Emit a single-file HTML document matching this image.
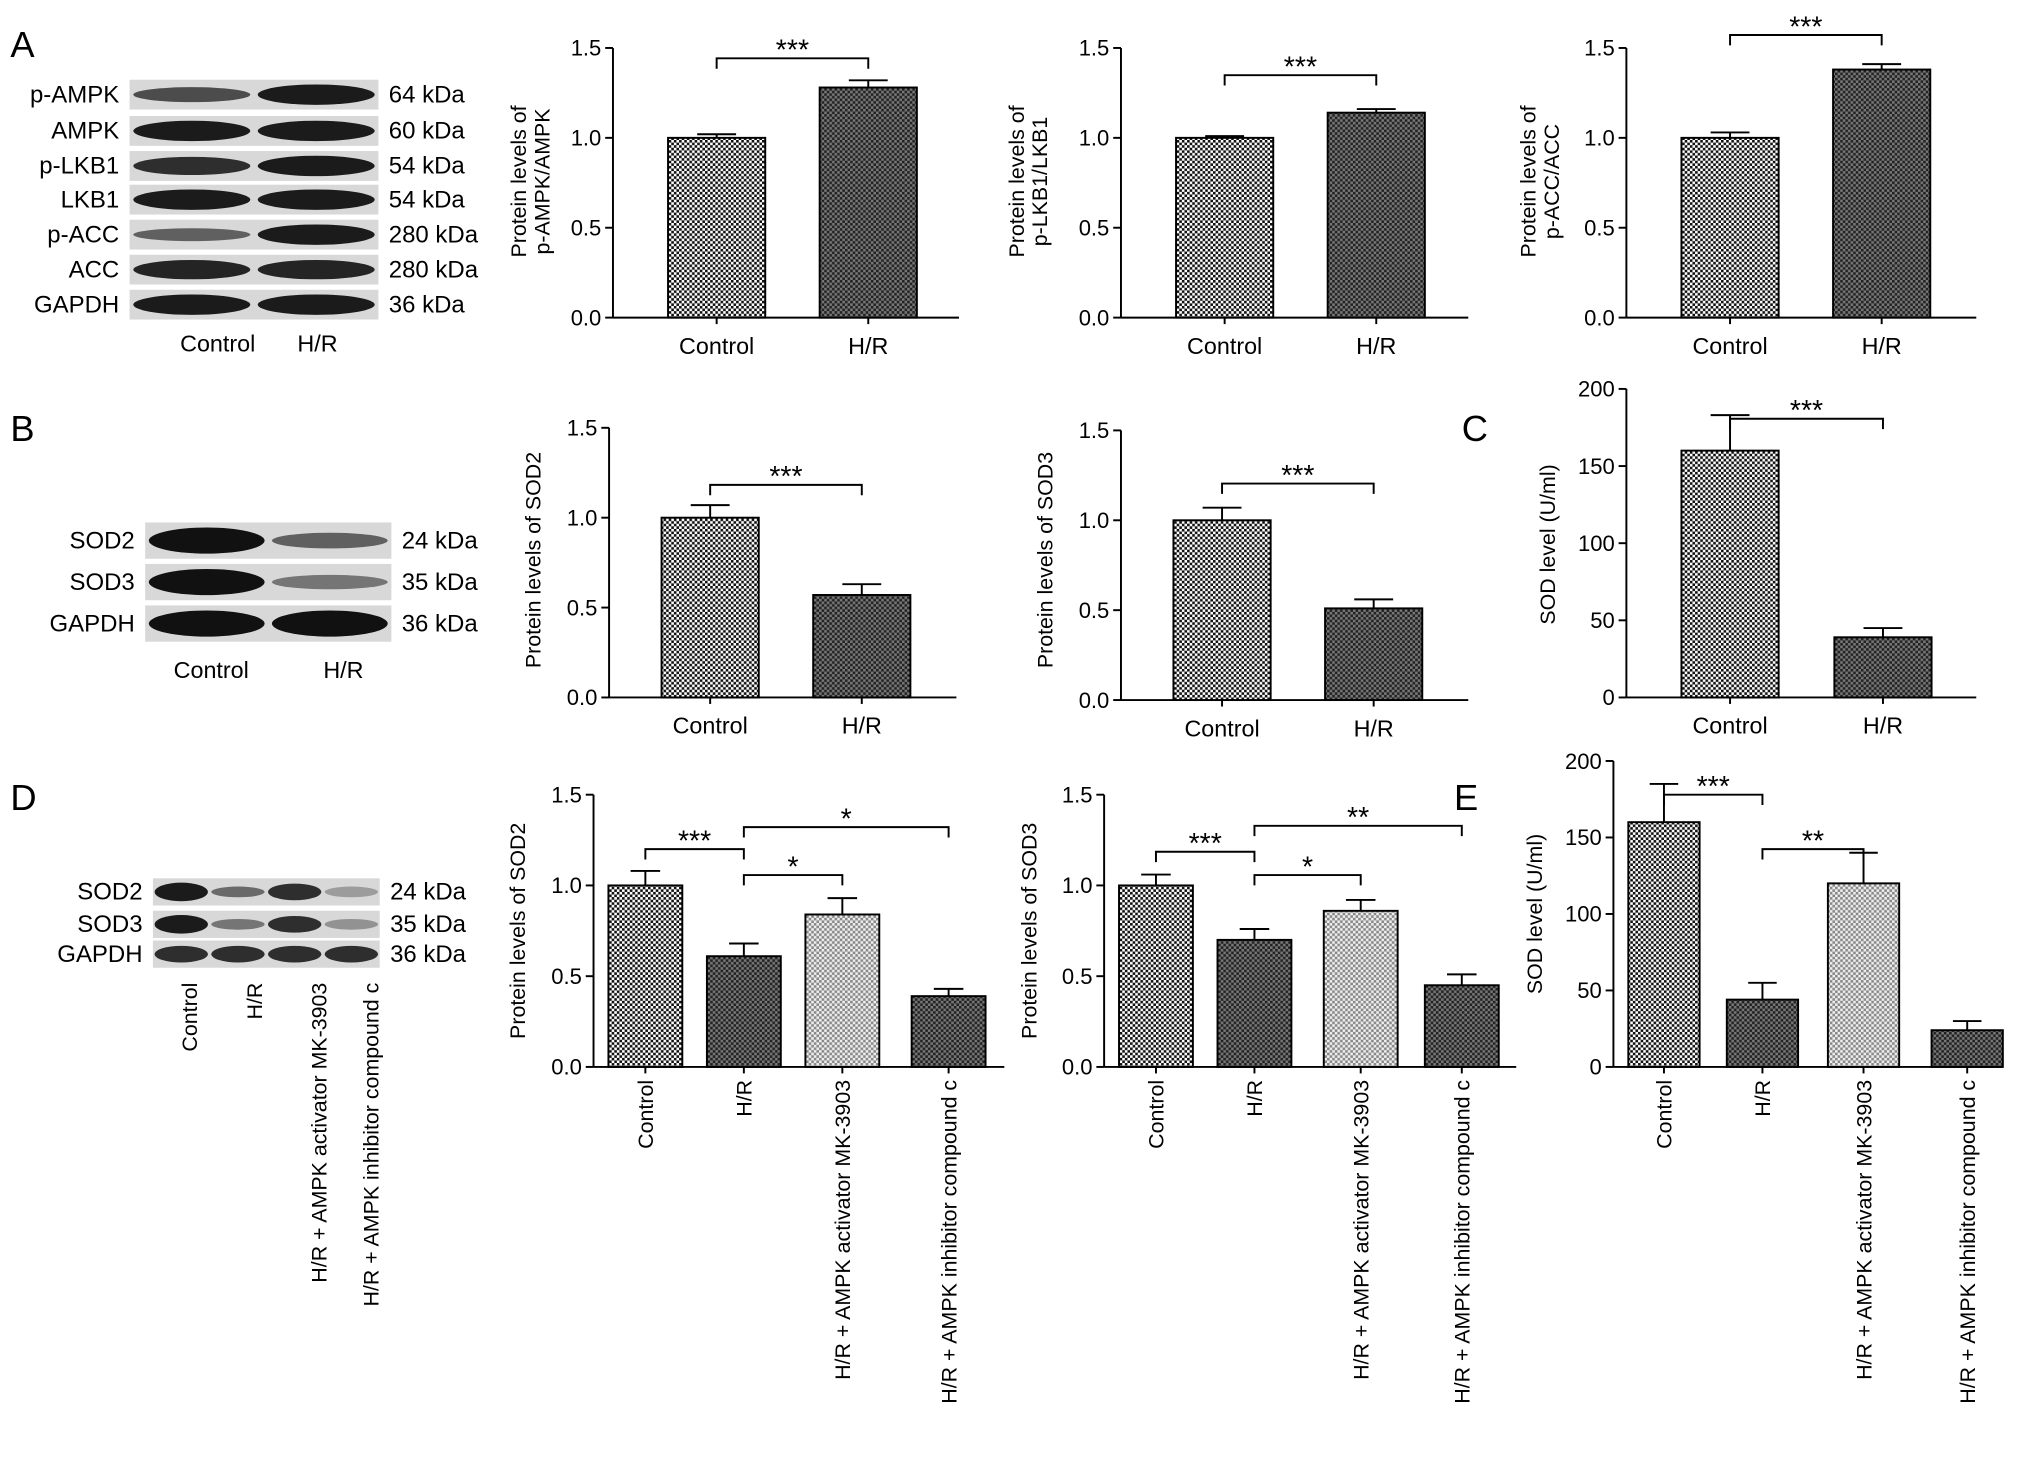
<!DOCTYPE html>
<html><head><meta charset="utf-8"><style>
html,body{margin:0;padding:0;background:#fff}
svg{display:block;font-family:"Liberation Sans",Arial,sans-serif}
</style></head><body>
<svg id="fig" width="2032" height="1474" viewBox="0 0 1568 1137" preserveAspectRatio="none" xmlns="http://www.w3.org/2000/svg">
<defs>
<pattern id="pCtl" width="4" height="4" patternUnits="userSpaceOnUse"><rect width="4" height="4" fill="#fff"/><rect width="2" height="2" fill="#111"/><rect x="2" y="2" width="2" height="2" fill="#111"/></pattern>
<pattern id="pHR" width="4" height="4" patternUnits="userSpaceOnUse"><rect width="4" height="4" fill="#777"/><rect width="2" height="2" fill="#222"/><rect x="2" y="2" width="2" height="2" fill="#222"/></pattern>
<pattern id="pMK" width="4" height="4" patternUnits="userSpaceOnUse"><rect width="4" height="4" fill="#eee"/><rect width="2" height="2" fill="#888"/><rect x="2" y="2" width="2" height="2" fill="#888"/></pattern>
</defs>
<g id="root"></g>
</svg>
<script>
// ---- data ----
const cats2 = ["Control","H/R"];
const cats4 = ["Control","H/R","H/R + AMPK activator MK-3903","H/R + AMPK inhibitor compound c"];
const a1Vals = [1.0, 1.28]; const a1Errs = [0.02, 0.04];
const a2Vals = [1.0, 1.14]; const a2Errs = [0.01, 0.02];
const a3Vals = [1.0, 1.38]; const a3Errs = [0.03, 0.03];
const b1Vals = [1.0, 0.57]; const b1Errs = [0.07, 0.06];
const b2Vals = [1.0, 0.51]; const b2Errs = [0.07, 0.05];
const cVals = [160, 39]; const cErrs = [23, 6];
const d1Vals = [1.0, 0.61, 0.84, 0.39]; const d1Errs = [0.08, 0.07, 0.09, 0.04];
const d2Vals = [1.0, 0.70, 0.86, 0.45]; const d2Errs = [0.06, 0.06, 0.06, 0.06];
const eVals = [160, 44, 120, 24]; const eErrs = [25, 11, 20, 6];
const ticks15 = ["0.0","0.5","1.0","1.5"];
const ticks200 = ["0","50","100","150","200"];

const NS="http://www.w3.org/2000/svg";
const root=document.getElementById('root');
function el(tag,attrs,parent,txt){const e=document.createElementNS(NS,tag);for(const k in attrs)e.setAttribute(k,attrs[k]);if(txt!==undefined)e.textContent=txt;(parent||root).appendChild(e);return e;}

const fills=["url(#pCtl)","url(#pHR)","url(#pMK)","url(#pHR)"];

function chart(name,g){
  const grp=el('g',{});
  
  
  const ymax=g.ymax;
  const y=v=>g.y0-(v/ymax)*(g.y0-g.yTop);
  const ya=el('line',{x1:g.ax,y1:g.yTop,x2:g.ax,y2:g.y0,stroke:'#000','stroke-width':1.5},grp);
  
  const xa=el('line',{x1:g.ax,y1:g.y0,x2:g.xEnd,y2:g.y0,stroke:'#000','stroke-width':1.5},grp);
  
  g.ticks.forEach(t=>{const v=parseFloat(t);const yy=y(v);
    el('line',{x1:g.ax-6,y1:yy,x2:g.ax,y2:yy,stroke:'#000','stroke-width':1.5},grp);
    const tl=el('text',{x:g.ax-9,y:yy+6,'text-anchor':'end','font-size':17},grp,t);
    
  });
  const tt=el('text',{transform:`translate(${g.tx},${g.tcy}) rotate(-90)`,'text-anchor':'middle','font-size':16.5},grp);
  
  g.title.forEach((ln,i)=>{el('tspan',{x:0,dy:i?18:0},tt,ln);});
  g.vals.forEach((v,i)=>{const cx=g.cx[i];const w=g.bw;
    const b=el('rect',{x:cx-w/2,y:y(v),width:w,height:g.y0-y(v),fill:fills[i],stroke:'#000','stroke-width':1.5},grp);
    
    const et=y(v+g.errs[i]);
    el('line',{x1:cx,y1:y(v),x2:cx,y2:et,stroke:'#000','stroke-width':1.5},grp);
    el('line',{x1:cx-w*0.2,y1:et,x2:cx+w*0.2,y2:et,stroke:'#000','stroke-width':1.5},grp);
    el('line',{x1:cx,y1:g.y0,x2:cx,y2:g.y0+5,stroke:'#000','stroke-width':1.5},grp);
    let lab;
    if(g.rot){lab=el('text',{transform:`translate(${cx+6},${g.y0+10}) rotate(-90)`,'text-anchor':'end','font-size':16.5},grp,g.cats[i]);}
    else{lab=el('text',{x:cx,y:g.y0+28,'text-anchor':'middle','font-size':18},grp,g.cats[i]);}
    
  });
  g.sig.forEach(s=>{
    const x1=g.cx[s[0]],x2=g.cx[s[1]],yy=s[2];
    const br=el('path',{d:`M${x1} ${yy+8}V${yy}H${x2}V${yy+8}`,fill:'none',stroke:'#000','stroke-width':1.5},grp);
    
    const st=el('text',{x:(x1+x2)/2,y:yy+1,'text-anchor':'middle','font-size':22},grp,s[3]);
    
  });
}

function blot(name,g){
  const grp=el('g',{});
  
  g.rows.forEach((r,ri)=>{
    const yy=g.y[ri];
    el('rect',{x:g.x,y:yy-g.h/2,width:g.w,height:g.h,fill:'#d8d8d8'},grp);
    r.int.forEach((a,li)=>{const lw=g.w/r.int.length;const cx=g.x+lw*(li+0.5);
      el('ellipse',{cx:cx,cy:yy,rx:lw*0.47,ry:g.h*0.36*Math.max(0.55,a),fill:'#111','fill-opacity':a},grp);});
    const l=el('text',{x:g.x-8,y:yy+6,'text-anchor':'end','font-size':18.5},grp,r.name);
    
    const k=el('text',{x:g.x+g.w+8,y:yy+6,'font-size':18.5},grp,r.kda);
    
  });
}
function panelLabel(t,x,y){const e=el('text',{x:x,y:y,'font-size':28},root,t);}

panelLabel('A',8,44);panelLabel('B',8,340);panelLabel('C',1128,340);panelLabel('D',8,625);panelLabel('E',1122,625);

blot('blot-a',{x:100,w:192,h:23,y:[73,101,128,154,181,208,235],rows:[
 {name:'p-AMPK',kda:'64 kDa',int:[0.7,0.95]},{name:'AMPK',kda:'60 kDa',int:[0.95,0.95]},
 {name:'p-LKB1',kda:'54 kDa',int:[0.85,0.95]},{name:'LKB1',kda:'54 kDa',int:[0.95,0.95]},
 {name:'p-ACC',kda:'280 kDa',int:[0.6,0.95]},{name:'ACC',kda:'280 kDa',int:[0.9,0.9]},
 {name:'GAPDH',kda:'36 kDa',int:[0.95,0.95]}]});
el('text',{x:168,y:271,'text-anchor':'middle','font-size':18},root,'Control');
el('text',{x:245,y:271,'text-anchor':'middle','font-size':18},root,'H/R');

blot('blot-b',{x:112,w:190,h:28,y:[417,449,481],rows:[
 {name:'SOD2',kda:'24 kDa',int:[1,0.6]},{name:'SOD3',kda:'35 kDa',int:[1,0.5]},{name:'GAPDH',kda:'36 kDa',int:[1,1]}]});
el('text',{x:163,y:523,'text-anchor':'middle','font-size':18},root,'Control');
el('text',{x:265,y:523,'text-anchor':'middle','font-size':18},root,'H/R');

blot('blot-d',{x:118,w:175,h:21,y:[688,713,736],rows:[
 {name:'SOD2',kda:'24 kDa',int:[0.95,0.55,0.85,0.3]},{name:'SOD3',kda:'35 kDa',int:[0.95,0.5,0.85,0.35]},{name:'GAPDH',kda:'36 kDa',int:[0.85,0.85,0.85,0.85]}]});
cats4.forEach((c,i)=>{const t=el('text',{transform:`translate(${[152,202,252,292][i]},758) rotate(-90)`,'text-anchor':'end','font-size':16.5},root,c);
 });

chart('chart-p-ampk',{ax:473,xEnd:740,yTop:37,y0:245,ymax:1.5,ticks:ticks15,cats:cats2,vals:a1Vals,errs:a1Errs,cx:[553,670],bw:75,tx:406,tcy:140,title:['Protein levels of','p-AMPK/AMPK'],sig:[[0,1,45,'***']]});
chart('chart-p-lkb1',{ax:865,xEnd:1133,yTop:37,y0:245,ymax:1.5,ticks:ticks15,cats:cats2,vals:a2Vals,errs:a2Errs,cx:[945,1062],bw:75,tx:790,tcy:140,title:['Protein levels of','p-LKB1/LKB1'],sig:[[0,1,58,'***']]});
chart('chart-p-acc',{ax:1255,xEnd:1525,yTop:37,y0:245,ymax:1.5,ticks:ticks15,cats:cats2,vals:a3Vals,errs:a3Errs,cx:[1335,1452],bw:75,tx:1185,tcy:140,title:['Protein levels of','p-ACC/ACC'],sig:[[0,1,27,'***']]});
chart('chart-b-sod2',{ax:470,xEnd:738,yTop:330,y0:538,ymax:1.5,ticks:ticks15,cats:cats2,vals:b1Vals,errs:b1Errs,cx:[548,665],bw:75,tx:417,tcy:432,title:['Protein levels of SOD2'],sig:[[0,1,374,'***']]});
chart('chart-b-sod3',{ax:865,xEnd:1133,yTop:332,y0:540,ymax:1.5,ticks:ticks15,cats:cats2,vals:b2Vals,errs:b2Errs,cx:[943,1060],bw:75,tx:812,tcy:432,title:['Protein levels of SOD3'],sig:[[0,1,373,'***']]});
chart('chart-c-sod',{ax:1255,xEnd:1525,yTop:300,y0:538,ymax:200,ticks:ticks200,cats:cats2,vals:cVals,errs:cErrs,cx:[1335,1453],bw:75,tx:1200,tcy:420,title:['SOD level (U/ml)'],sig:[[0,1,323,'***']]});
chart('chart-d-sod2',{ax:458,xEnd:775,yTop:613,y0:823,ymax:1.5,ticks:ticks15,cats:cats4,vals:d1Vals,errs:d1Errs,cx:[498,574,650,732],bw:57,rot:true,tx:405,tcy:718,title:['Protein levels of SOD2'],sig:[[0,1,655,'***'],[1,2,675,'*'],[1,3,638,'*']]});
chart('chart-d-sod3',{ax:852,xEnd:1170,yTop:613,y0:823,ymax:1.5,ticks:ticks15,cats:cats4,vals:d2Vals,errs:d2Errs,cx:[892,968,1050,1128],bw:57,rot:true,tx:800,tcy:718,title:['Protein levels of SOD3'],sig:[[0,1,657,'***'],[1,2,675,'*'],[1,3,637,'**']]});
chart('chart-e-sod',{ax:1245,xEnd:1545,yTop:587,y0:823,ymax:200,ticks:ticks200,cats:cats4,vals:eVals,errs:eErrs,cx:[1284,1360,1438,1518],bw:55,rot:true,tx:1190,tcy:705,title:['SOD level (U/ml)'],sig:[[0,1,613,'***'],[1,2,655,'**']]});
</script>
</body></html>
